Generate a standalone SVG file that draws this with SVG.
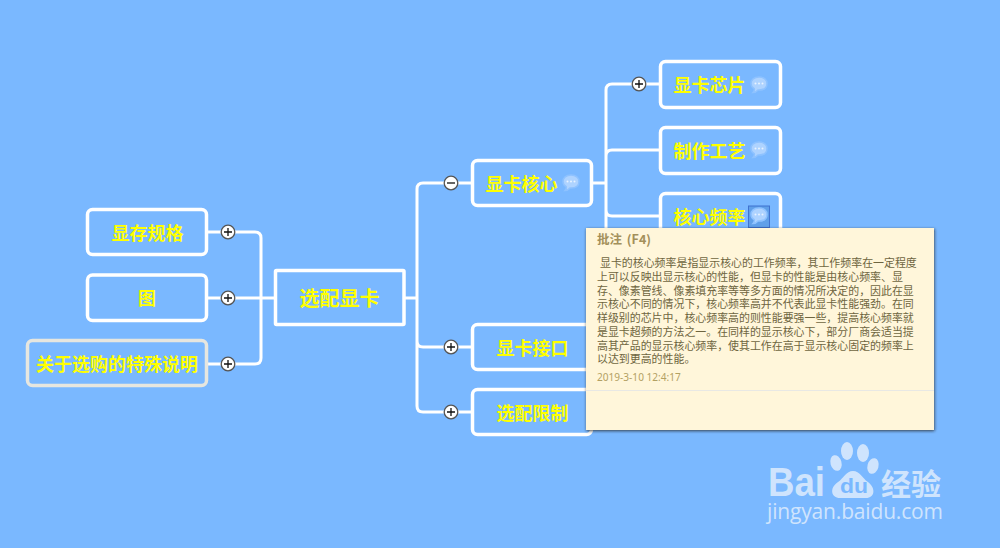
<svg xmlns="http://www.w3.org/2000/svg" width="1000" height="548" viewBox="0 0 1000 548">
<style>
.box{fill:none;stroke:#fff;stroke-width:3.5}
.lab{font-family:"Noto Sans CJK SC","Noto Sans",sans-serif;font-weight:700;font-size:18px;fill:#ffff00;text-anchor:middle}
.ln{fill:none;stroke:#fff;stroke-width:3}
.tip{font-family:"Noto Sans CJK SC","Noto Sans",sans-serif;font-size:10.930px;fill:#6e6540}
.wm{fill:#cfe4fd}
</style>
<defs>
<filter id="sh" x="-5%" y="-5%" width="110%" height="110%"><feDropShadow dx="0.500" dy="1" stdDeviation="1.500" flood-color="#222" flood-opacity=".8"/></filter>
<g id="bub">
<path d="M0-8C5-8 8-5 8-1.500C8 2.500 5 5 0 5L-1 5C-2.500 6.800-4.500 7.500-6 7.500C-5 6.500-4.500 5-4.800 3.700C-7 2.500-8 .8-8-1.500C-8-5-5-8 0-8Z" fill="#aed3ff" stroke="#8ec2ff" stroke-width="1.500"/>
<circle cx="-3.500" cy="-1.500" r="1" fill="#e8f3ff"/><circle cx="0" cy="-1.500" r="1" fill="#e8f3ff"/><circle cx="3.500" cy="-1.500" r="1" fill="#e8f3ff"/>
</g>
<g id="plus"><circle r="6.800" fill="#fff" stroke="#555" stroke-width="1.300"/><path d="M-4 0H4M0-4V4" stroke="#111" stroke-width="1.300"/></g>
<g id="minus"><circle r="6.800" fill="#fff" stroke="#555" stroke-width="1.300"/><path d="M-4 0H4" stroke="#111" stroke-width="1.300"/></g>
</defs>
<rect width="1000" height="548" fill="#7ab8ff"/>
<g id="connectors">
<path class="ln" d="M208 232H255Q261 232 261 238V358Q261 364 255 364H208M208 298H274"/>
<path class="ln" d="M405 298H417M471 183H423Q417 183 417 189V406Q417 412 423 412H471M417 341Q417 347 423 347H471"/>
<path class="ln" d="M593 183H606M659 84H612Q606 84 606 90V340M606 156Q606 150 612 150H659M606 210Q606 216 612 216H659"/>
</g>
<g id="n-xianka"><rect class="box" x="275.500" y="270.500" width="128.500" height="54" rx="1"/><text class="lab" style="font-size:20px" x="339.500" y="306">选配显卡</text></g>
<g id="n-guige"><rect class="box" x="87.500" y="209.500" width="119" height="45" rx="5"/><text class="lab" x="147.500" y="240">显存规格</text><use href="#plus" x="228" y="232"/></g>
<g id="n-tu"><rect class="box" x="87.500" y="275" width="119" height="45.500" rx="5"/><text class="lab" x="147" y="305">图</text><use href="#plus" x="228" y="298"/></g>
<g id="n-shuoming"><rect x="27.500" y="340.500" width="179" height="45" rx="5" fill="none" stroke="#e6e6df" stroke-width="3.500"/><text class="lab" x="117" y="371">关于选购的特殊说明</text><use href="#plus" x="228" y="364"/></g>
<g id="n-hexin"><rect class="box" x="472.500" y="160.500" width="119" height="45" rx="5"/><text class="lab" x="521.500" y="191">显卡核心</text><use href="#bub" x="571" y="183"/><use href="#minus" x="451" y="183"/></g>
<g id="n-xinpian"><rect class="box" x="660.500" y="61.500" width="120" height="46" rx="5"/><text class="lab" x="709.500" y="92">显卡芯片</text><use href="#bub" x="759" y="85"/><use href="#plus" x="639" y="84"/></g>
<g id="n-gongyi"><rect class="box" x="660.500" y="127.500" width="120" height="46" rx="5"/><text class="lab" x="709.500" y="158">制作工艺</text><use href="#bub" x="759" y="150"/></g>
<g id="n-pinlv"><rect class="box" x="660.500" y="193.500" width="120" height="46" rx="5"/><text class="lab" x="709.500" y="224">核心频率</text><rect x="748.500" y="206" width="21" height="21.500" fill="#5f9fe9" stroke="#3f72cf" stroke-width="1"/><use href="#bub" x="759" y="216"/></g>
<g id="n-jiekou"><rect class="box" x="472.500" y="324.500" width="119" height="45" rx="5"/><text class="lab" x="532.500" y="355">显卡接口</text><use href="#plus" x="451" y="347"/></g>
<g id="n-xianzhi"><rect class="box" x="472.500" y="389.500" width="119" height="45" rx="5"/><text class="lab" x="532.500" y="420">选配限制</text><use href="#plus" x="451" y="412"/></g>
<g id="popup">
<rect x="586" y="228" width="348" height="202" fill="#fff6da" filter="url(#sh)"/>
<path d="M586 390.500H934" stroke="#e8e8e4" stroke-width="1"/>
<text x="597" y="244" font-family="'Noto Sans CJK SC',sans-serif" font-size="12.500px" font-weight="700" word-spacing="2" fill="#a3905a">批注 (F4)</text>
<text class="tip" x="600" y="267">显卡的核心频率是指显示核心的工作频率，其工作频率在一定程度</text>
<text class="tip" x="597" y="281">上可以反映出显示核心的性能，但显卡的性能是由核心频率、显</text>
<text class="tip" x="597" y="294.500">存、像素管线、像素填充率等等多方面的情况所决定的，因此在显</text>
<text class="tip" x="597" y="308">示核心不同的情况下，核心频率高并不代表此显卡性能强劲。在同</text>
<text class="tip" x="597" y="322">样级别的芯片中，核心频率高的则性能要强一些，提高核心频率就</text>
<text class="tip" x="597" y="335.500">是显卡超频的方法之一。在同样的显示核心下，部分厂商会适当提</text>
<text class="tip" x="597" y="349.500">高其产品的显示核心频率，使其工作在高于显示核心固定的频率上</text>
<text class="tip" x="597" y="363">以达到更高的性能。</text>
<text x="597" y="381" font-family="'Noto Sans',sans-serif" font-size="10.100px" fill="#b3a163">2019-3-10 12:4:17</text>
</g>
<g id="watermark">
<ellipse class="wm" cx="847" cy="451" rx="6" ry="9"/><ellipse class="wm" cx="863" cy="453" rx="6" ry="9"/><ellipse class="wm" cx="836" cy="463" rx="5.500" ry="8" transform="rotate(-15 836 463)"/><ellipse class="wm" cx="873" cy="466" rx="5.500" ry="8" transform="rotate(15 873 466)"/>
<path class="wm" d="M853 471C860 471 862 478 868 482C876 488 875 498 866 498H840C831 498 829 488 838 482C844 478 846 471 853 471Z"/>
<text x="768" y="496" font-family="'Liberation Sans',sans-serif" font-weight="700" font-size="40px" textLength="57" lengthAdjust="spacingAndGlyphs" class="wm">Bai</text>
<text x="840" y="493" font-family="'Liberation Sans',sans-serif" font-weight="700" font-size="21px" textLength="28" lengthAdjust="spacingAndGlyphs" fill="#7ab8ff">du</text>
<text x="881" y="495" font-family="'Noto Sans CJK SC',sans-serif" font-size="30px" font-weight="700" class="wm">经验</text>
<text x="767" y="519" font-family="'Open Sans',sans-serif" font-size="21px" textLength="176" class="wm">jingyan.baidu.com</text>
</g>
</svg>
